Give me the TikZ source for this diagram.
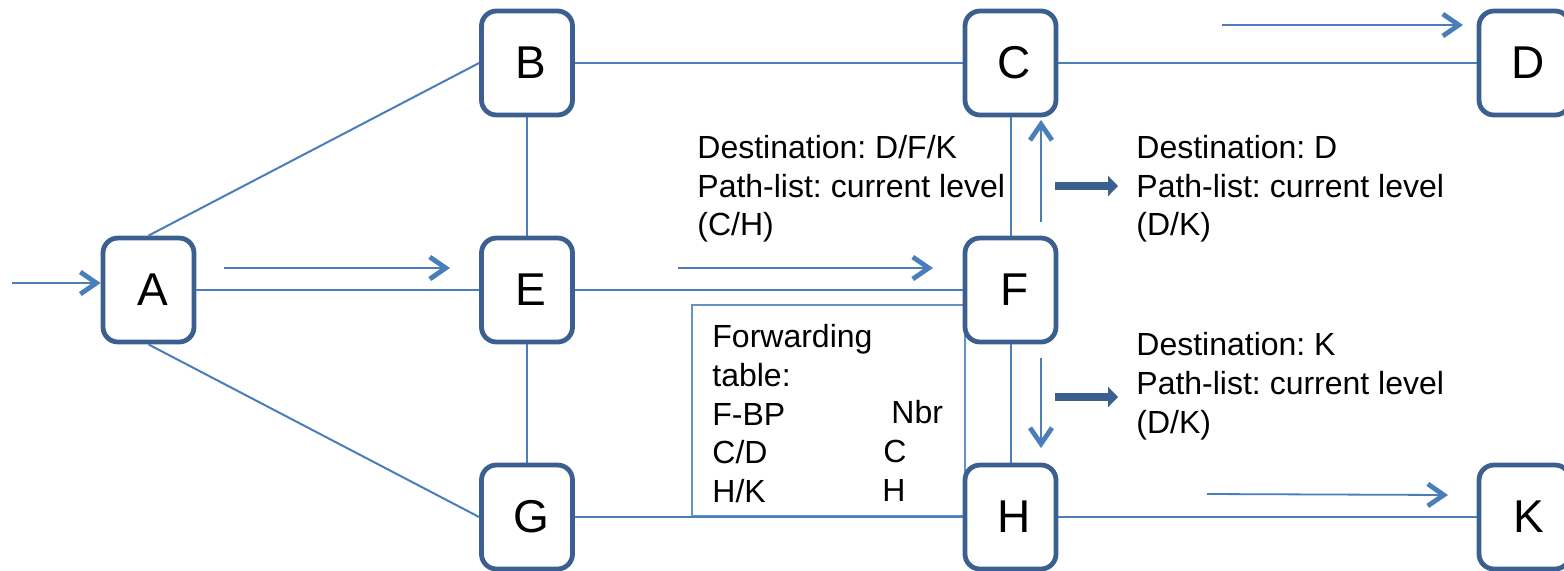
\documentclass[tikz,border=0pt]{standalone}
\usepackage{fontspec}
\setmainfont{Liberation Sans}
\usetikzlibrary{arrows.meta}
\definecolor{boxc}{HTML}{3B5F8E}
\definecolor{linec}{HTML}{4A7EBB}
\frenchspacing
\begin{document}
\begin{tikzpicture}[x=0.5pt,y=-0.5pt,
  nd/.style={draw=boxc, line width=2.4pt, rounded corners=7.5pt, fill=white,
    minimum width=45.5pt, minimum height=52pt, inner sep=0pt,
    font=\fontsize{23}{27}\selectfont, execute at begin node={\hspace*{4pt}}},
  edge/.style={draw=linec, line width=1pt},
  flow/.style={draw=linec, line width=0.9pt,
    -{Straight Barb[length=8pt,width=11pt,line width=2.4pt]}},
  fat/.style={draw=boxc, line width=4pt, -{Triangle[length=5pt,width=10pt]}},
  lbl/.style={font=\fontsize{16}{19.35}\selectfont, align=left, inner sep=0pt, anchor=north west},
  tblbox/.style={draw=linec!85, line width=0.6pt, minimum width=136.5pt, minimum height=105.5pt, inner sep=0pt}
]
\useasboundingbox (0,0) rectangle (1564,570);

% forwarding table frame
\node[tblbox] (tbl) at (828.5,410.5) {};

% routers
\node[nd] (A) at (148.5,290) {A};
\node[nd] (B) at (527,63) {B};
\node[nd] (E) at (527,290) {E};
\node[nd] (G) at (527,517) {G};
\node[nd] (C) at (1010.5,63) {C};
\node[nd] (F) at (1010.5,290) {F};
\node[nd] (H) at (1010.5,517) {H};
\node[nd] (D) at (1524.5,63) {D};
\node[nd] (K) at (1524.5,517) {K};

% links
\draw[edge] (A.north) -- (B.west);
\draw[edge] (A.east) -- (E.west);
\draw[edge] (A.south) -- (G.west);
\draw[edge] (B.east) -- (C.west);
\draw[edge] (B.south) -- (E.north);
\draw[edge] (E.south) -- (G.north);
\draw[edge] (E.east) -- (F.west);
\draw[edge] (G.east) -- (H.west);
\draw[edge] (C.east) -- (D.west);
\draw[edge] (C.south) -- (F.north);
\draw[edge] (F.south) -- (H.north);
\draw[edge] (H.east) -- (K.west);

% flow arrows
\coordinate (in0) at (12,283);
\coordinate (ae0) at (224,268);
\coordinate (ae1) at (450,268);
\coordinate (ef0) at (678,268);
\coordinate (ef1) at (933,268);
\coordinate (fc0) at (1041,222);
\coordinate (fc1) at (1041,120);
\coordinate (fh0) at (1041,358);
\coordinate (fh1) at (1041,448);
\coordinate (cd0) at (1222,25);
\coordinate (cd1) at (1463,25);
\coordinate (hk0) at (1207,494);
\coordinate (hk1) at (1448,495);
\draw[flow] (in0) -- (A.west |- in0);
\draw[flow] (ae0) -- (ae1);
\draw[flow] (ef0) -- (ef1);
\draw[flow] (fc0) -- (fc1);
\draw[flow] (fh0) -- (fh1);
\draw[flow] (cd0) -- (cd1);
\draw[flow] (hk0) -- (hk1);

% fat arrows
\coordinate (fa0) at (1055,186);
\coordinate (fa1) at (1118,186);
\coordinate (fb0) at (1055,397);
\coordinate (fb1) at (1118,397);
\draw[fat] (fa0) -- (fa1);
\draw[fat] (fb0) -- (fb1);

% labels
\node[lbl] (lf) at (697,135) {Destination: D/F/K\\Path-list: current level\\(C/H)};
\node[lbl] (lc) at (1136,135) {Destination: D\\Path-list: current level\\(D/K)};
\node[lbl] (lh) at (1136,332) {Destination: K\\Path-list: current level\\(D/K)};
\node[lbl] (t1) at (712,324) {Forwarding\\table:\\F-BP\\C/D\\H/K};
\node[lbl] (t2) at (882,400) {\hspace*{4.5pt}Nbr\\\hspace*{0.5pt}C\\H};
\end{tikzpicture}
\end{document}
